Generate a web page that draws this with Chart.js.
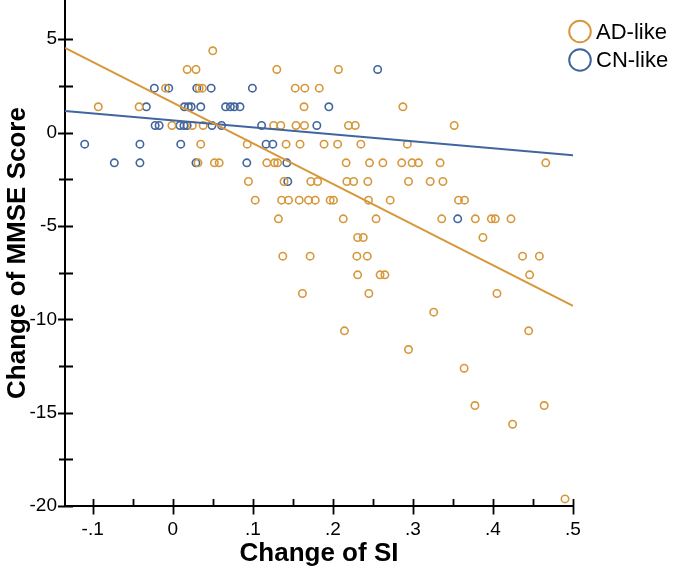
<!DOCTYPE html>
<html><head><meta charset="utf-8">
<script src="https://cdn.jsdelivr.net/npm/chart.js@4"></script>
<style>html,body{margin:0;padding:0;background:#fff}#wrap{width:673px;height:573px;position:relative}</style>
</head><body><div id="wrap"><canvas id="c" width="673" height="573"></canvas></div>
<script>
const SERIES_NAMES = ['AD-like', 'CN-like'];

const AD_X = [
  0.050,
  0.018, 0.029, 0.130, 0.207,
  -0.009, 0.033, 0.037, 0.153, 0.165, 0.183,
  -0.093, -0.042, 0.164, 0.2875,
  -0.001, 0.0245, 0.038, 0.126, 0.135, 0.154, 0.1645, 0.2195, 0.228, 0.3516,
  0.035, 0.093, 0.1416, 0.159, 0.189, 0.206, 0.235, 0.293,
  0.0315, 0.052, 0.058, 0.1175, 0.127, 0.131, 0.2166, 0.2458, 0.2625, 0.286, 0.299, 0.307, 0.334, 0.466,
  0.0945, 0.139, 0.1725, 0.181, 0.2175, 0.226, 0.2437, 0.2945, 0.3216, 0.3375,
  0.103, 0.136, 0.1446, 0.158, 0.1696, 0.178, 0.1966, 0.2008, 0.2445, 0.2716, 0.357, 0.3645,
  0.132, 0.213, 0.254, 0.336, 0.378, 0.398, 0.403, 0.4225,
  0.231, 0.238, 0.3875,
  0.1375, 0.1716, 0.230, 0.243, 0.437, 0.458,
  0.231, 0.259, 0.265, 0.4458,
  0.162, 0.245, 0.405,
  0.326,
  0.2145, 0.4446,
  0.2945,
  0.364,
  0.3775, 0.464,
  0.4245,
  0.490
];
const AD_Y = [
  4.38,
  3.38, 3.38, 3.38, 3.38,
  2.38, 2.38, 2.38, 2.38, 2.38, 2.38,
  1.38, 1.38, 1.38, 1.38,
  0.38, 0.38, 0.38, 0.38, 0.38, 0.38, 0.38, 0.38, 0.38, 0.38,
  -0.62, -0.62, -0.62, -0.62, -0.62, -0.62, -0.62, -0.62,
  -1.62, -1.62, -1.62, -1.62, -1.62, -1.62, -1.62, -1.62, -1.62, -1.62, -1.62, -1.62, -1.62, -1.62,
  -2.62, -2.62, -2.62, -2.62, -2.62, -2.62, -2.62, -2.62, -2.62, -2.62,
  -3.62, -3.62, -3.62, -3.62, -3.62, -3.62, -3.62, -3.62, -3.62, -3.62, -3.62, -3.62,
  -4.62, -4.62, -4.62, -4.62, -4.62, -4.62, -4.62, -4.62,
  -5.62, -5.62, -5.62,
  -6.62, -6.62, -6.62, -6.62, -6.62, -6.62,
  -7.62, -7.62, -7.62, -7.62,
  -8.62, -8.62, -8.62,
  -9.62,
  -10.62, -10.62,
  -11.62,
  -12.62,
  -14.62, -14.62,
  -15.62,
  -19.62
];

const CN_X = [
  0.256,
  -0.023, -0.005, 0.030, 0.048, 0.0995,
  -0.033, 0.0145, 0.0195, 0.023, 0.035, 0.066, 0.072, 0.077, 0.084, 0.195,
  -0.022, -0.017, 0.009, 0.014, 0.018, 0.049, 0.061, 0.111, 0.180,
  -0.110, -0.041, 0.010, 0.1166, 0.125,
  -0.073, -0.041, 0.029, 0.0925, 0.1425,
  0.1437,
  0.356
];
const CN_Y = [
  3.38,
  2.38, 2.38, 2.38, 2.38, 2.38,
  1.38, 1.38, 1.38, 1.38, 1.38, 1.38, 1.38, 1.38, 1.38, 1.38,
  0.38, 0.38, 0.38, 0.38, 0.38, 0.38, 0.38, 0.38, 0.38,
  -0.62, -0.62, -0.62, -0.62, -0.62,
  -1.62, -1.62, -1.62, -1.62, -1.62,
  -2.62,
  -4.62
];

const FIT_X = [-0.1346, 0.5];
const FIT_AD_Y = [4.53, -9.28];
const FIT_CN_Y = [1.16, -1.22];

const X_TICKS = [-0.1, 0, 0.1, 0.2, 0.3, 0.4, 0.5];
const X_TICK_LABELS = ['-.1', '0', '.1', '.2', '.3', '.4', '.5'];
const X_MINOR = [-0.05, 0.05, 0.15, 0.25, 0.35, 0.45];
const Y_TICKS = [5, 0, -5, -10, -15, -20];
const Y_TICK_LABELS = ['5', '0', '-5', '-10', '-15', '-20'];
const Y_MINOR = [2.5, -2.5, -7.5, -12.5, -17.5];

const X_TITLE = 'Change of SI';
const Y_TITLE = 'Change of MMSE Score';

const ORANGE = '#D6983A';
const BLUE = '#41659E';
const FONT = "'Liberation Sans', Arial, Helvetica, sans-serif";

const pts = (xs, ys) => xs.map((x, i) => ({x: x, y: ys[i]}));

const tickPlugin = {
  id: 'crossTicks',
  afterDraw(chart) {
    const ctx = chart.ctx, xs = chart.scales.x, ys = chart.scales.y;
    const ca = chart.chartArea;
    ctx.save();
    ctx.strokeStyle = '#000';
    ctx.lineWidth = 1.8;
    ctx.beginPath();
    X_TICKS.forEach(v => { const p = Math.round(xs.getPixelForValue(v)) + 0.5; ctx.moveTo(p, ca.bottom - 7); ctx.lineTo(p, ca.bottom + 8.5); });
    X_MINOR.forEach(v => { const p = Math.round(xs.getPixelForValue(v)) + 0.5; ctx.moveTo(p, ca.bottom - 7); ctx.lineTo(p, ca.bottom); });
    Y_TICKS.forEach(v => { const p = Math.round(ys.getPixelForValue(v)) + 0.5; ctx.moveTo(ca.left - 7, p); ctx.lineTo(ca.left + 8, p); });
    Y_MINOR.forEach(v => { const p = Math.round(ys.getPixelForValue(v)) + 0.5; ctx.moveTo(ca.left - 6, p); ctx.lineTo(ca.left + 8, p); });
    ctx.stroke();
    // legend
    const items = chart.data.datasets.filter(d => d.type === 'scatter');
    const lx = 580, ly0 = 31.5, dy = 28.5;
    items.forEach((d, i) => {
      const y = ly0 + i * dy;
      ctx.beginPath();
      ctx.lineWidth = 2;
      ctx.strokeStyle = d.borderColor;
      ctx.arc(lx, y, 10.8, 0, Math.PI * 2);
      ctx.stroke();
      ctx.fillStyle = '#000';
      ctx.font = '22px ' + FONT;
      ctx.textBaseline = 'middle';
      ctx.textAlign = 'left';
      ctx.fillText(d.label, 596, y + 1);
    });
    ctx.restore();
  }
};

new Chart(document.getElementById('c'), {
  data: {
    datasets: [
      {type: 'line', label: 'fitAD', data: pts(FIT_X, FIT_AD_Y), borderColor: ORANGE, borderWidth: 2, pointRadius: 0, fill: false, order: 1},
      {type: 'line', label: 'fitCN', data: pts(FIT_X, FIT_CN_Y), borderColor: BLUE, borderWidth: 2, pointRadius: 0, fill: false, order: 1},
      {type: 'scatter', label: SERIES_NAMES[0], data: pts(AD_X, AD_Y), borderColor: ORANGE, backgroundColor: 'rgba(0,0,0,0)', pointRadius: 3.7, borderWidth: 1.6, order: 2},
      {type: 'scatter', label: SERIES_NAMES[1], data: pts(CN_X, CN_Y), borderColor: BLUE, backgroundColor: 'rgba(0,0,0,0)', pointRadius: 3.7, borderWidth: 1.6, order: 2}
    ]
  },
  options: {
    responsive: false,
    devicePixelRatio: 1,
    animation: false,
    layout: {autoPadding: false, padding: {left: 0, right: 100, top: 0, bottom: 0}},
    plugins: {legend: {display: false}, tooltip: {enabled: false}},
    scales: {
      x: {
        type: 'linear', min: -0.1346, max: 0.5,
        afterBuildTicks: s => { s.ticks = X_TICKS.map(v => ({value: v})); },
        afterFit: s => { s.height = 67; s.paddingLeft = 0; s.paddingRight = 0; s.paddingTop = 0; s.paddingBottom = 0; },
        grid: {display: false, drawTicks: false},
        border: {display: true, color: '#000', width: 2},
        ticks: {padding: 12, color: '#000', font: {family: FONT, size: 19},
          callback: (v) => { const i = X_TICKS.findIndex(t => Math.abs(t - v) < 1e-9); return i >= 0 ? X_TICK_LABELS[i] : ''; }},
        title: {display: true, text: X_TITLE, color: '#000', font: {family: FONT, size: 26, weight: 'bold'}, padding: {top: 0, bottom: 4}}
      },
      y: {
        type: 'linear', min: -20, max: 7.1,
        afterBuildTicks: s => { s.ticks = Y_TICKS.map(v => ({value: v})); },
        afterFit: s => { s.width = 65; s.paddingTop = 0; s.paddingBottom = 0; s.paddingLeft = 0; s.paddingRight = 0; },
        grid: {display: false, drawTicks: false},
        border: {display: true, color: '#000', width: 2},
        ticks: {padding: 8, color: '#000', font: {family: FONT, size: 19},
          callback: (v) => { const i = Y_TICKS.findIndex(t => Math.abs(t - v) < 1e-9); return i >= 0 ? Y_TICK_LABELS[i] : ''; }},
        title: {display: true, text: Y_TITLE, color: '#000', font: {family: FONT, size: 26, weight: 'bold'}, padding: {top: 2, bottom: 0}}
      }
    }
  },
  plugins: [tickPlugin]
});
</script></body></html>
